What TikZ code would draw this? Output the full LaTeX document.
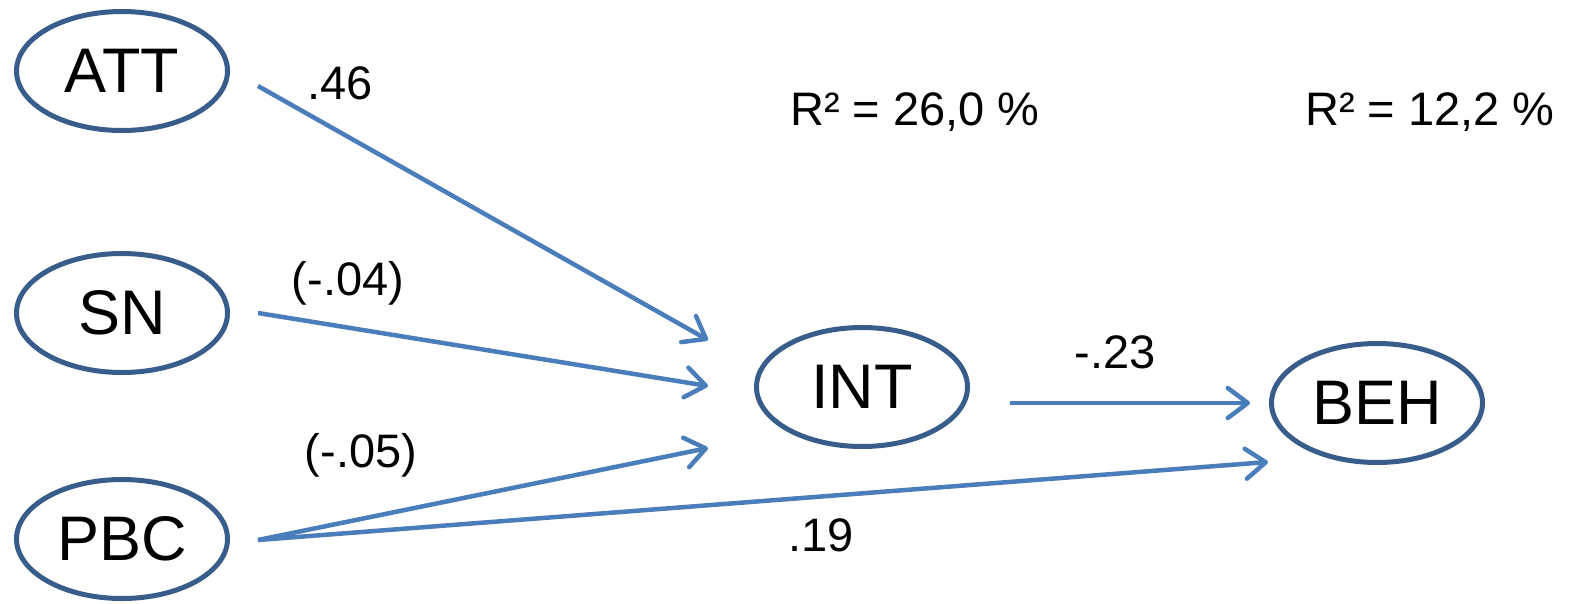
\documentclass[tikz,border=0pt]{standalone}
\usepackage{fontspec}
\setmainfont{Liberation Sans}
\usetikzlibrary{arrows.meta,shapes.geometric}
\definecolor{ellcol}{HTML}{385D8A}
\definecolor{arrcol}{HTML}{4A7EBB}
\begin{document}
\begin{tikzpicture}[x=1pt,y=-1pt,
  latent/.style={draw=ellcol, line width=5pt, ellipse, minimum width=211pt, minimum height=119pt, inner sep=0pt, font=\fontsize{63}{63}\selectfont},
  pathar/.style={draw=arrcol, line width=4.5pt, -{Straight Barb[length=20pt,width=30pt,round]}},
  coef/.style={font=\fontsize{47}{47}\selectfont, inner sep=0pt}]
\useasboundingbox (0,0) rectangle (1574,603);
% latent variables
\node[latent] (ATT) at (122,71) {ATT};
\node[latent] (SN)  at (122,313) {SN};
\node[latent] (PBC) at (122,539) {PBC};
\node[latent] (INT) at (862,387) {INT};
\node[latent] (BEH) at (1377,403) {BEH};
% connector end points
\coordinate (att-o) at (258,86);
\coordinate (sn-o)  at (258,313);
\coordinate (pbc-o) at (258,540);
\coordinate (int-a) at (708,340);
\coordinate (int-s) at (708,386);
\coordinate (int-p) at (708,448);
\coordinate (int-o) at (1010,403);
\coordinate (beh-i) at (1250,403);
\coordinate (beh-p) at (1268,462);
% paths
\draw[pathar] (att-o) -- (int-a);
\draw[pathar] (sn-o) -- (int-s);
\draw[pathar] (pbc-o) -- (int-p);
\draw[pathar] (pbc-o) -- (beh-p);
\draw[pathar] (int-o) -- (beh-i);
% coefficients
\node[coef] (c1) at (340,83) {.46};
\node[coef] (c2) at (348,283) {(-.04)};
\node[coef] (c3) at (361,455) {(-.05)};
\node[coef] (c4) at (1115,352) {-.23};
\node[coef] (c5) at (821,535) {.19};
\node[coef] (r1) at (915,112) {R² = 26,0 \%};
\node[coef] (r2) at (1430,112) {R² = 12,2 \%};
\end{tikzpicture}
\end{document}
